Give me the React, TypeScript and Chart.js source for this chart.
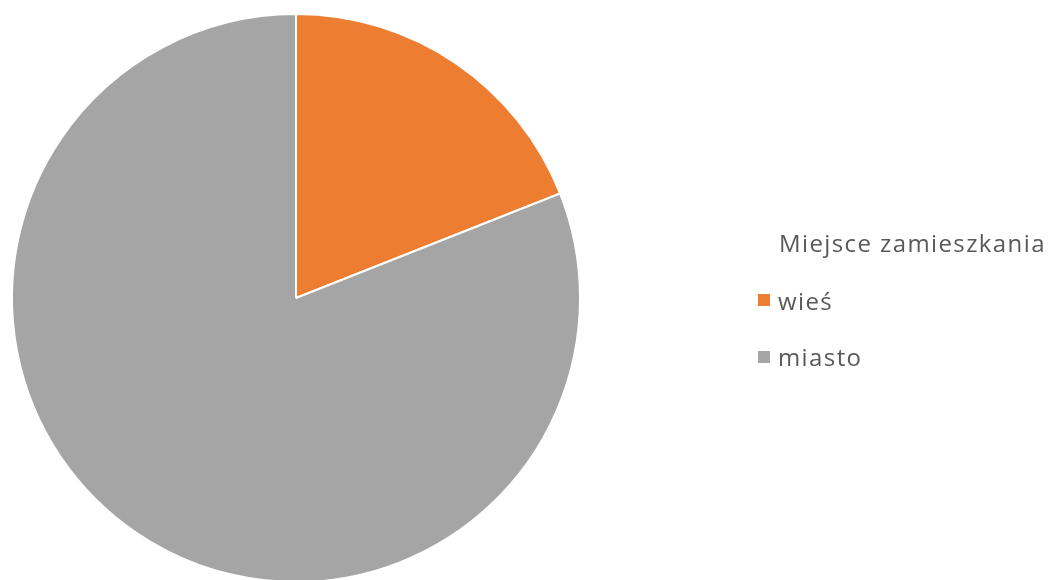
import React, { useEffect, useRef } from "react";
import { Chart, registerables } from "chart.js";

Chart.register(...registerables);

const categories = ["wieś", "miasto"];
const values = [19, 81];
const colors = ["#ED7D31", "#A5A5A5"];
const legendTitle = "Miejsce zamieszkania";

export default function App() {
  const ref = useRef<HTMLCanvasElement | null>(null);

  useEffect(() => {
    if (!ref.current) return;
    const chart = new Chart(ref.current, {
      type: "pie",
      data: {
        labels: categories,
        datasets: [
          {
            data: values,
            backgroundColor: colors,
            borderColor: "#FFFFFF",
            borderWidth: 2,
          },
        ],
      },
      options: {
        responsive: false,
        animation: false,
        layout: { padding: { left: 11, right: 469, top: 13, bottom: 17 } },
        plugins: {
          legend: { display: false },
          tooltip: { enabled: false },
        },
      },
    });
    return () => chart.destroy();
  }, []);

  const textStyle: React.CSSProperties = {
    fontFamily: "'Open Sans', sans-serif",
    fontSize: 24,
    lineHeight: "24px",
    color: "#595959",
    letterSpacing: 1.4,
    whiteSpace: "nowrap",
  };

  return (
    <div style={{ position: "fixed", left: 0, top: 0, width: 1050, height: 580, background: "#fff", overflow: "hidden" }}>
      <canvas ref={ref} width={1050} height={600} style={{ position: "absolute", left: 0, top: 0 }} />
      <div style={{ ...textStyle, position: "absolute", left: 779, top: 231 }}>{legendTitle}</div>
      {categories.map((c, i) => (
        <React.Fragment key={c}>
          <span
            style={{
              position: "absolute",
              left: 758,
              top: 294 + i * 57,
              width: 12,
              height: 12,
              background: colors[i],
            }}
          />
          <span style={{ ...textStyle, position: "absolute", left: 778, top: 289 + i * 56 }}>{c}</span>
        </React.Fragment>
      ))}
    </div>
  );
}
